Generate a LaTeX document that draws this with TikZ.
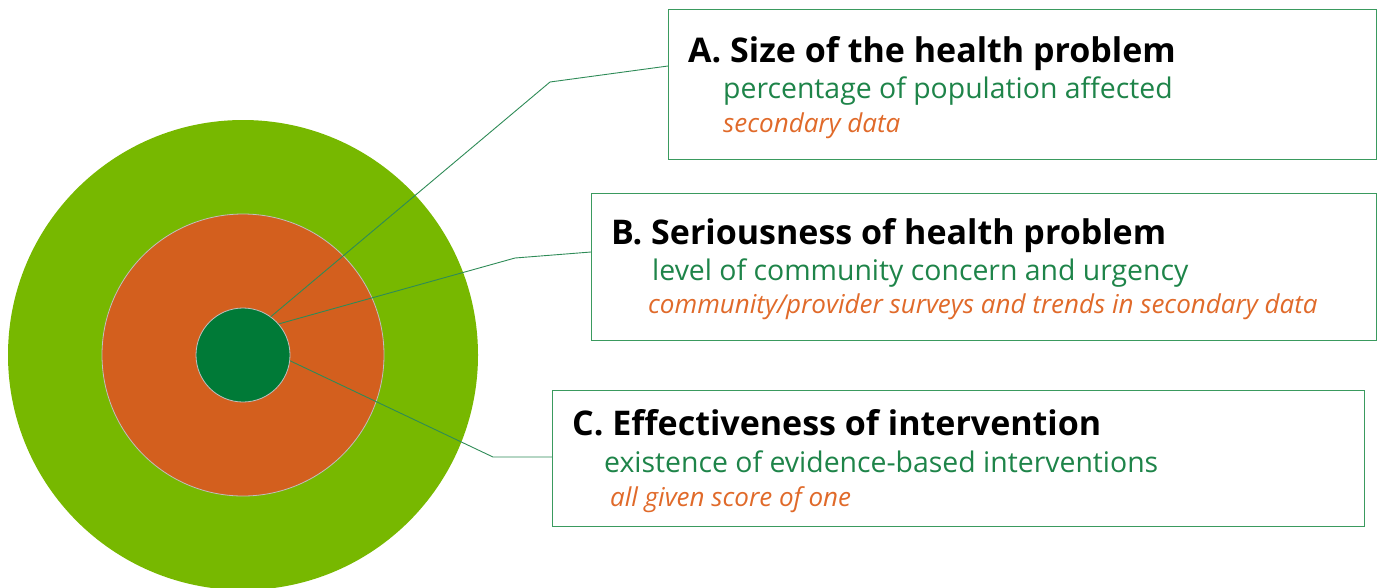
\documentclass[tikz,border=0pt]{standalone}
\usepackage{fontspec}
\setmainfont{Open Sans}
\definecolor{outergreen}{HTML}{77B800}
\definecolor{midorange}{HTML}{D35F1E}
\definecolor{innergreen}{HTML}{007A37}
\definecolor{linegreen}{HTML}{2E8B57}
\definecolor{boxgreen}{HTML}{3A9A5E}
\definecolor{txtgreen}{HTML}{1E8449}
\definecolor{txtorange}{HTML}{E06A2A}
\begin{document}
\begin{tikzpicture}[x=1pt,y=-1pt,
  ring/.style={circle,inner sep=0pt,draw=#1},
  infobox/.style={draw=boxgreen,line width=1pt,anchor=north west,inner sep=0pt},
  conn/.style={draw=linegreen,line width=0.9pt},
  ttl/.style={anchor=base west,inner sep=0pt,font=\fontsize{34}{38}\selectfont\bfseries,text=black},
  sub/.style={anchor=base west,inner sep=0pt,font=\fontsize{28.4}{32}\selectfont,text=txtgreen},
  src/.style={anchor=base west,inner sep=0pt,font=\fontsize{26}{29}\selectfont\itshape,text=txtorange}]
\useasboundingbox (0,0) rectangle (1383,587);
\begin{scope}
\clip (0,0) rectangle (1383,587);
\node[ring=none,fill=outergreen,minimum size=470pt] (outer) at (243,355) {};
\node[ring=black!25,fill=midorange,minimum size=282pt,line width=0.8pt] (mid) at (243,355) {};
\node[ring=black!25,fill=innergreen,minimum size=94pt,line width=0.8pt] (inner) at (243,355) {};
\end{scope}
\node[infobox,minimum width=708pt,minimum height=150pt] (boxA) at (668,9) {};
\node[infobox,minimum width=785pt,minimum height=147pt] (boxB) at (591,193) {};
\node[infobox,minimum width=812pt,minimum height=136pt] (boxC) at (552,390) {};
\node[ttl] (tA) at (688,62) {A. Size of the health problem};
\node[sub] (gA) at (723,98) {percentage of population affected};
\node[src] (oA) at (723,132) {secondary data};
\node[ttl] (tB) at (611,244) {B. Seriousness of health problem};
\node[sub] (gB) at (652,280) {level of community concern and urgency};
\node[src] (oB) at (648,313) {community/provider surveys and trends in secondary data};
\node[ttl] (tC) at (572,435) {C. Effectiveness of intervention};
\node[sub] (gC) at (604,472) {existence of evidence-based interventions};
\node[src] (oC) at (610,506) {all given score of one};
\coordinate (bA) at (550,82);
\coordinate (bB) at (515,258);
\coordinate (bC) at (493,457);
\draw[conn] (inner.54) -- (bA) -- ([yshift=-57pt]boxA.north west);
\draw[conn] (inner.41) -- (bB) -- ([yshift=-59pt]boxB.north west);
\draw[conn] (inner.-7) -- (bC) -- ([yshift=-67pt]boxC.north west);
\end{tikzpicture}
\end{document}
